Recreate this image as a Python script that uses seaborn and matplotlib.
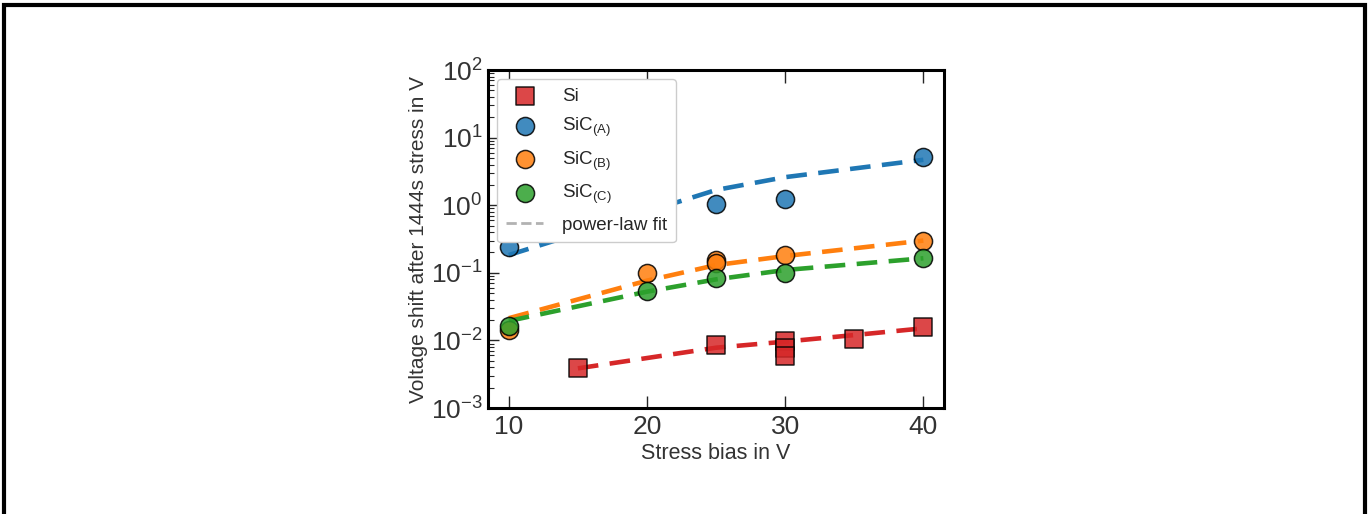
import seaborn as sns
import matplotlib.pyplot as plt
import matplotlib.patches as patches
import pandas as pd

si_bias = [15, 25, 30, 30, 30, 35, 40]
si_shift = [0.0039, 0.0085, 0.0098, 0.0078, 0.0059, 0.0104, 0.0156]

sica_bias = [10, 25, 30, 40]
sica_shift = [0.238, 1.04, 1.24, 5.1]

sicb_bias = [10, 20, 25, 25, 30, 40]
sicb_shift = [0.0145, 0.100, 0.155, 0.141, 0.183, 0.30]

sicc_bias = [10, 20, 25, 30, 40]
sicc_shift = [0.0163, 0.0545, 0.0848, 0.100, 0.164]

# power-law fit curves, sampled at the measured biases
si_fit_bias = [15, 25, 30, 35, 40]
si_fit = [0.00386, 0.0078, 0.0096, 0.012, 0.0151]
sica_fit_bias = [10, 25, 30, 40]
sica_fit = [0.183, 1.68, 2.6, 4.7]
sicb_fit_bias = [10, 20, 25, 30, 40]
sicb_fit = [0.0213, 0.0766, 0.130, 0.177, 0.30]
sicc_fit_bias = [10, 20, 25, 30, 40]
sicc_fit = [0.0194, 0.0526, 0.080, 0.11, 0.164]

series = [
    ("Si", si_bias, si_shift, si_fit_bias, si_fit, "#d62728", "s", 150),
    ("SiC$_{\\mathregular{(A)}}$", sica_bias, sica_shift, sica_fit_bias, sica_fit, "#1f77b4", "o", 170),
    ("SiC$_{\\mathregular{(B)}}$", sicb_bias, sicb_shift, sicb_fit_bias, sicb_fit, "#ff7f0e", "o", 170),
    ("SiC$_{\\mathregular{(C)}}$", sicc_bias, sicc_shift, sicc_fit_bias, sicc_fit, "#2ca02c", "o", 170),
]

sns.set_style("white")
plt.rcParams['font.family'] = ['Liberation Sans', 'DejaVu Sans']
plt.rcParams['mathtext.fontset'] = 'custom'
plt.rcParams['mathtext.rm'] = 'Liberation Sans'

fig = plt.figure(figsize=(13.71, 5.14), dpi=100)
ax = fig.add_axes([0.356, 0.2062, 0.3326, 0.6576])

for name, bx, by, fx, fy, color, marker, size in series:
    fit_df = pd.DataFrame({"x": fx, "y": fy})
    sns.lineplot(data=fit_df, x="x", y="y", ax=ax, color=color, lw=3.3,
                 zorder=2, label=None)
    ax.lines[-1].set_dashes([4.5, 2.5])

for name, bx, by, fx, fy, color, marker, size in series:
    df = pd.DataFrame({"x": bx, "y": by})
    sns.scatterplot(data=df, x="x", y="y", ax=ax, color=color, marker=marker,
                    s=size, edgecolor="black", linewidth=1.1, alpha=0.85,
                    zorder=3, label=name)

# legend entry for the fit lines
ax.plot([], [], color="grey", ls="--", lw=2, alpha=0.6, label="power-law fit")

ax.set_yscale("log")
ax.set_ylim(1e-3, 1e2)
ax.set_xlim(8.5, 41.5)
ax.set_xticks([10, 20, 30, 40])
ax.set_xlabel("Stress bias in V", fontsize=15.5, color="#333333", labelpad=3)
ax.set_ylabel("Voltage shift after 1444s stress in V", fontsize=15, color="#333333", labelpad=2)

ax.tick_params(axis="x", which="major", direction="in", top=True, bottom=True,
               length=9, width=1, labelsize=19, labelcolor="#333333", pad=5)
ax.tick_params(axis="y", which="major", direction="in", left=True, right=False,
               length=8, width=1, labelsize=19, labelcolor="#333333", pad=4)
ax.tick_params(axis="y", which="minor", direction="in", left=True, right=False,
               length=4, width=0.8)
ax.tick_params(axis="x", which="minor", bottom=False, top=False)

for sp in ax.spines.values():
    sp.set_linewidth(2.2)
    sp.set_color("black")

handles, labels = ax.get_legend_handles_labels()
leg = ax.legend(handles, labels, loc="upper left", fontsize=13.5, frameon=True,
                labelspacing=0.55, handletextpad=1.0, borderpad=0.45,
                bbox_to_anchor=(0.0, 1.0), framealpha=1.0)
leg.get_frame().set_edgecolor("#cccccc")

# frame around the whole figure
fig.patches.append(patches.Rectangle((4 / 1371, -0.05), (1365 - 4) / 1371, 1.05 - 5 / 514,
                                     transform=fig.transFigure, fill=False,
                                     edgecolor="black", linewidth=3))

fig.savefig("out.png", dpi=100)
